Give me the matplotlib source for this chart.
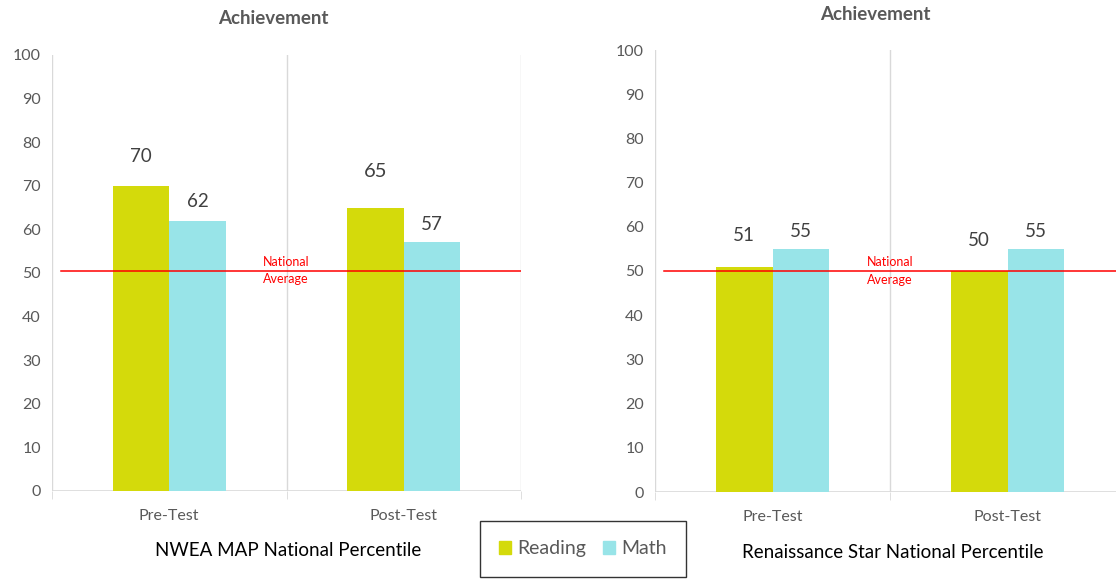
import matplotlib
matplotlib.use("Agg")
import matplotlib.pyplot as plt
import numpy as np
from matplotlib.patches import Patch

plt.rcParams['font.family'] = ['Lato', 'DejaVu Sans']

categories = ["Pre-Test", "Post-Test"]
series_names = ["Reading", "Math"]
nwea_reading = [70, 65]
nwea_math = [62, 57]
star_reading = [51, 50]
star_math = [55, 55]
national_average = [50.5, 50]
chart_titles = ["Achievement", "Achievement"]
chart_xlabels = ["NWEA MAP National Percentile", "Renaissance Star National Percentile"]
yticks = [0, 10, 20, 30, 40, 50, 60, 70, 80, 90, 100]

c_read = "#D4DA0B"
c_math = "#98E4E8"
grid_c = "#D9D9D9"
tick_c = "#595959"

fig = plt.figure(figsize=(11.16, 5.79), dpi=100)

def draw(rect, reading, math, navg, title, xlabel, title_xy, navg_x, lab_offsets, lab_sizes, xlabel_xy):
    ax = fig.add_axes(rect)
    x = np.arange(len(categories))
    w = 0.24
    ax.bar(x - w/2, reading, w, color=c_read, zorder=2)
    ax.bar(x + w/2, math, w, color=c_math, zorder=2)
    ax.set_xlim(-0.5, len(categories) - 0.5)
    ax.set_ylim(0, 100)
    for b in np.arange(-0.5, len(categories), 1.0):
        ax.axvline(b, color=grid_c, lw=1, zorder=0)
    ax.axhline(0, color=grid_c, lw=1.2, zorder=1)
    for s in ax.spines.values():
        s.set_visible(False)
    ax.set_yticks(yticks)
    ax.tick_params(axis='y', length=0, labelsize=11.5, labelcolor=tick_c, pad=8)
    ax.set_xticks(x)
    ax.set_xticklabels(categories)
    ax.tick_params(axis='x', length=0, labelsize=11.5, labelcolor=tick_c, pad=13)
    ax.set_xticks(np.arange(-0.5, len(categories), 1.0), minor=True)
    ax.tick_params(axis='x', which='minor', length=6, color=grid_c)
    ax.axhline(navg, color="#FF0000", lw=1.1, xmin=0.02, xmax=1.0, zorder=3)
    ax.text(navg_x, navg, "National\nAverage", color="#FF0000", fontsize=9,
            ha='left', va='center', linespacing=1.5, transform=ax.transData, zorder=4)
    for i in range(len(categories)):
        ax.annotate(str(reading[i]), (x[i] - w/2, reading[i]), xytext=(0, lab_offsets[0][i]),
                    textcoords='offset pixels', ha='center', va='center',
                    fontsize=lab_sizes[0][i], color="#404040")
        ax.annotate(str(math[i]), (x[i] + w/2, math[i]), xytext=(0, lab_offsets[1][i]),
                    textcoords='offset pixels', ha='center', va='center',
                    fontsize=lab_sizes[1][i], color="#404040")
    fig.text(title_xy[0], title_xy[1], title, fontsize=13.5, fontweight='bold', color=tick_c,
             ha='center', va='center')
    fig.text(xlabel_xy[0], xlabel_xy[1], xlabel,
             fontsize=13.5, color="#000000", ha='center', va='center')
    return ax

draw([52/1116, 1 - 491/579, 469/1116, 436/579], nwea_reading, nwea_math, national_average[0],
     chart_titles[0], chart_xlabels[0], (273/1116, 1 - 19/579), 0.40,
     [[29, 36], [19, 18]], [[13.5, 14.5], [13.5, 13.5]], (288/1116, 1 - 551/579))
draw([655/1116, 1 - 492/579, 470/1116, 442/579], star_reading, star_math, national_average[1],
     chart_titles[1], chart_xlabels[1], (875/1116, 1 - 15/579), 0.40,
     [[31, 31], [17, 17]], [[13.5, 13.5], [13.5, 13.5]], (893/1116, 1 - 553/579))

handles = [Patch(color=c_read, label=series_names[0]), Patch(color=c_math, label=series_names[1])]
leg = fig.legend(handles=handles, loc='upper left', bbox_to_anchor=(480/1116, 1 - 521/579),
                 ncol=2, frameon=True, fontsize=14, handlelength=0.6, handleheight=0.6,
                 handletextpad=0.3, columnspacing=0.9, borderpad=1.0, fancybox=False,
                 borderaxespad=0)
leg.get_frame().set_edgecolor("#000000")
leg.get_frame().set_linewidth(1.0)
for t in leg.get_texts():
    t.set_color(tick_c)

fig.savefig("out.png", dpi=100)
